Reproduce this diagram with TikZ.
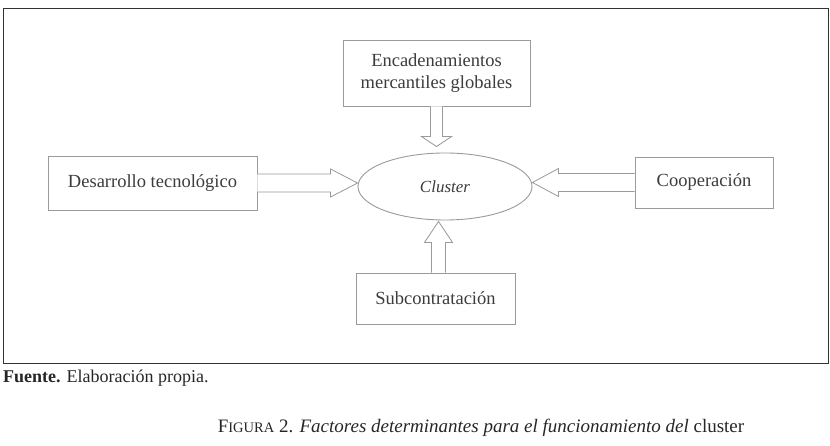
\documentclass[tikz,border=0pt]{standalone}
\usepackage{fontspec}
\setmainfont{Liberation Serif}
\usetikzlibrary{shapes.geometric,calc}
\definecolor{txt}{HTML}{3C3C3C}
\definecolor{boxc}{HTML}{9A9A9A}
\begin{document}
\begin{tikzpicture}[x=1pt,y=-1pt,
  factor/.style={draw=boxc, line width=0.9pt, rectangle, inner sep=0pt, align=center, text=txt, font=\fontsize{18.5}{22}\selectfont},
  hollow/.style={draw=boxc, line width=0.8pt, fill=white, line join=miter}]
\useasboundingbox (0,0) rectangle (830,446);
\draw[color=black!80, line width=0.9pt] (3,8) rectangle (828,363);
\node[factor, minimum width=187pt, minimum height=66pt] (T) at (436.5,73) {Encadenamientos\\mercantiles globales};
\node[factor, minimum width=209pt, minimum height=54pt] (D) at (152.5,183) {Desarrollo tecnológico};
\node[factor, minimum width=138pt, minimum height=51pt] (K) at (704,182.5) {Cooperación};
\node[factor, minimum width=159pt, minimum height=51pt] (S) at (435.5,298.5) {Subcontratación};
\node[draw=boxc, line width=0.9pt, ellipse, minimum width=174pt, minimum height=67pt, inner sep=0pt, text=txt, font=\fontsize{17}{20}\selectfont\itshape] (C) at (445,186.5) {Cluster};
% left arrow
\draw[hollow] let \p1=(D.east), \p2=(C.west) in
  (\x1,\y1+9pt) -- (\x2-27pt,\y1+9pt) -- (\x2-27pt,\y1+14pt) -- (\x2,\y1) -- (\x2-27pt,\y1-14pt) -- (\x2-27pt,\y1-9pt) -- (\x1,\y1-9pt);
% right arrow
\draw[hollow] let \p1=(K.west), \p2=(C.east) in
  (\x1,\y1+9pt) -- (\x2+26pt,\y1+9pt) -- (\x2+26pt,\y1+14pt) -- (\x2,\y1) -- (\x2+26pt,\y1-14pt) -- (\x2+26pt,\y1-9pt) -- (\x1,\y1-9pt);
% top arrow
\draw[hollow] let \p1=(T.south), \p2=($(C.north)+(0,-6)$) in
  (\x1-6pt,\y1) -- (\x1-6pt,\y2+10pt) -- (\x1-15pt,\y2+10pt) -- (\x1,\y2) -- (\x1+15pt,\y2+10pt) -- (\x1+6pt,\y2+10pt) -- (\x1+6pt,\y1);
% bottom arrow
\draw[hollow] let \p1=(S.north), \p2=($(C.south)+(0,1)$) in
  (\x1+3pt-7pt,\y1) -- (\x1+3pt-7pt,\y2-21pt) -- (\x1+3pt-14pt,\y2-21pt) -- (\x1+3pt,\y2) -- (\x1+3pt+14pt,\y2-21pt) -- (\x1+3pt+7pt,\y2-21pt) -- (\x1+3pt+7pt,\y1);
\node[anchor=west, inner sep=0pt, text=black!85, font=\fontsize{18}{21}\selectfont] (F) at (3,378) {\textbf{Fuente.} Elaboración propia.};
\node[inner sep=0pt, text=black!85, font=\fontsize{19}{23}\selectfont] (cap) at (481,428) {F{\fontsize{14.5}{17}\selectfont IGURA} 2. \textit{Factores determinantes para el funcionamiento del} cluster};
\end{tikzpicture}
\end{document}
